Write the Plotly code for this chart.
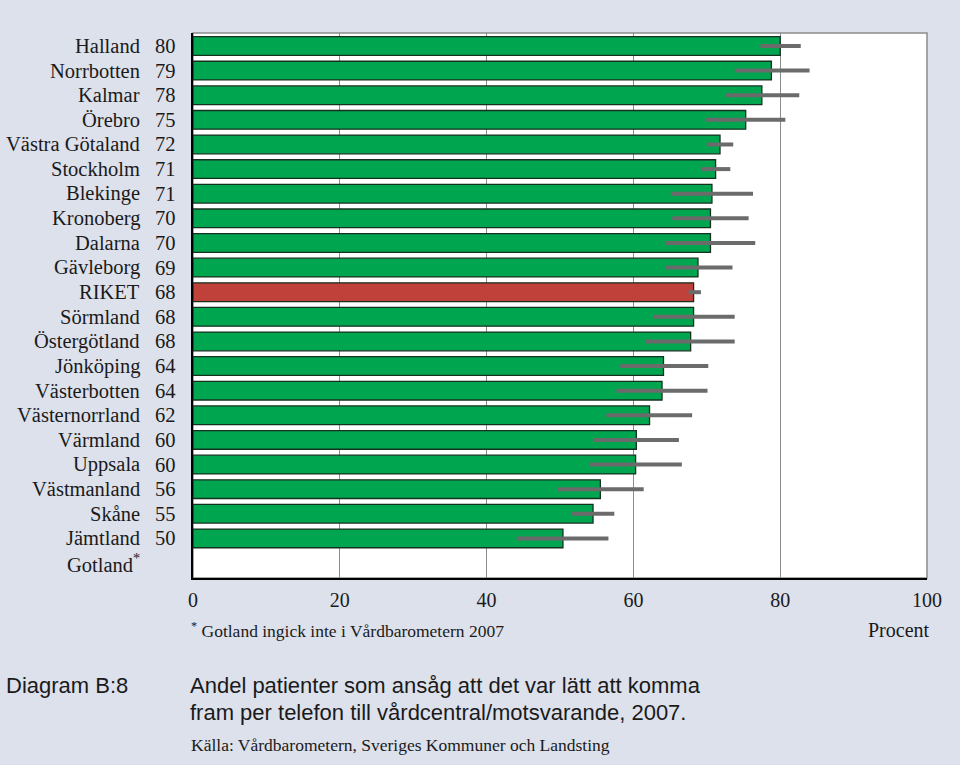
import plotly.graph_objects as go

regions = ["Halland", "Norrbotten", "Kalmar", "Örebro", "Västra Götaland", "Stockholm",
           "Blekinge", "Kronoberg", "Dalarna", "Gävleborg", "RIKET", "Sörmland",
           "Östergötland", "Jönköping", "Västerbotten", "Västernorrland", "Värmland",
           "Uppsala", "Västmanland", "Skåne", "Jämtland", "Gotland<sup>*</sup>"]
value_labels = ["80", "79", "78", "75", "72", "71", "71", "70", "70", "69", "68", "68",
                "68", "64", "64", "62", "60", "60", "56", "55", "50", ""]
values = [80.0, 78.8, 77.5, 75.3, 71.8, 71.2, 70.7, 70.5, 70.5, 68.8, 68.2, 68.2,
          67.8, 64.1, 63.9, 62.2, 60.4, 60.3, 55.5, 54.5, 50.4, None]
ci_low = [77.3, 73.8, 72.6, 69.9, 70.0, 69.2, 65.1, 65.3, 64.3, 64.3, 67.5, 62.7,
          61.7, 58.2, 57.7, 56.3, 54.5, 54.0, 49.6, 51.6, 44.1, None]
ci_high = [82.8, 84.0, 82.6, 80.7, 73.6, 73.2, 76.3, 75.7, 76.6, 73.5, 69.2, 73.8,
           73.8, 70.2, 70.1, 68.0, 66.2, 66.6, 61.4, 57.4, 56.6, None]
x_ticks = [0, 20, 40, 60, 80, 100]

GREEN = "#00a550"
RED = "#c0403a"
TXT = "#1a1a1a"
SERIF = "Liberation Serif"
SANS = "Liberation Sans"
colors = [RED if r == "RIKET" else GREEN for r in regions]
err_plus = [None if v is None else h - v for v, h in zip(values, ci_high)]
err_minus = [None if v is None else v - l for v, l in zip(values, ci_low)]

fig = go.Figure()
fig.add_trace(go.Bar(
    y=regions, x=values, orientation="h",
    marker=dict(color=colors, line=dict(color="#16301f", width=1.3)),
    width=0.76,
    error_x=dict(type="data", array=err_plus, arrayminus=err_minus, symmetric=False,
                 color="#6b6b6b", thickness=4, width=0),
    hoverinfo="x+y",
))

annotations = []
for r, lab in zip(regions, value_labels):
    annotations.append(dict(x=0, xref="paper", y=r, yref="y", text=r, showarrow=False,
                            xanchor="right", xshift=-51,
                            font=dict(family=SERIF, size=20.5, color=TXT)))
    if lab:
        annotations.append(dict(x=0, xref="paper", y=r, yref="y", text=lab, showarrow=False,
                                xanchor="right", xshift=-15,
                                font=dict(family=SERIF, size=20.5, color=TXT)))

annotations += [
    dict(x=0, xref="paper", y=-0.095, yref="paper", yanchor="middle", xanchor="left",
         text="<sup>*</sup> Gotland ingick inte i Vårdbarometern 2007", showarrow=False,
         xshift=-4, font=dict(family=SERIF, size=17.5, color=TXT)),
    dict(x=1, xref="paper", y=-0.095, yref="paper", yanchor="middle", xanchor="right",
         text="Procent", showarrow=False, xshift=5,
         font=dict(family=SERIF, size=20, color=TXT)),
    dict(x=0, xref="paper", y=-0.198, yref="paper", yanchor="middle", xanchor="left",
         text="Diagram B:8", showarrow=False, xshift=-189,
         font=dict(family=SANS, size=22, color=TXT)),
    dict(x=0, xref="paper", y=-0.198, yref="paper", yanchor="middle", xanchor="left",
         text="Andel patienter som ansåg att det var lätt att komma", showarrow=False,
         xshift=-5, font=dict(family=SANS, size=22, color=TXT)),
    dict(x=0, xref="paper", y=-0.246, yref="paper", yanchor="middle", xanchor="left",
         text="fram per telefon till vårdcentral/motsvarande, 2007.", showarrow=False,
         xshift=-5, font=dict(family=SANS, size=22, color=TXT)),
    dict(x=0, xref="paper", y=-0.307, yref="paper", yanchor="middle", xanchor="left",
         text="Källa: Vårdbarometern, Sveriges Kommuner och Landsting", showarrow=False,
         xshift=-4, font=dict(family=SERIF, size=17.5, color=TXT)),
]

fig.update_layout(
    width=960, height=765,
    margin=dict(l=193, r=33, t=33, b=187),
    paper_bgcolor="#dde1ec",
    plot_bgcolor="#ffffff",
    showlegend=False,
    bargap=0.24,
    annotations=annotations,
    shapes=[dict(type="rect", xref="paper", yref="paper", x0=0, x1=1, y0=0, y1=1,
                 line=dict(color="#8c8c8c", width=1.5), layer="below")],
    xaxis=dict(range=[0, 100], tickvals=x_ticks, ticktext=[str(t) for t in x_ticks],
               showgrid=True, gridcolor="#8c8c8c", gridwidth=1, zeroline=False,
               showline=True, linecolor="#000000", linewidth=1.5, ticks="",
               tickfont=dict(family=SERIF, size=20, color=TXT),
               ticklabelstandoff=3),
    yaxis=dict(categoryorder="array", categoryarray=regions, autorange="reversed",
               showticklabels=False, showgrid=False, zeroline=False,
               showline=True, linecolor="#000000", linewidth=1.5, ticks=""),
)

fig.write_html("out.html", config={"displayModeBar": False},
               post_script="document.body.style.margin='0';document.body.style.overflow='hidden';")
